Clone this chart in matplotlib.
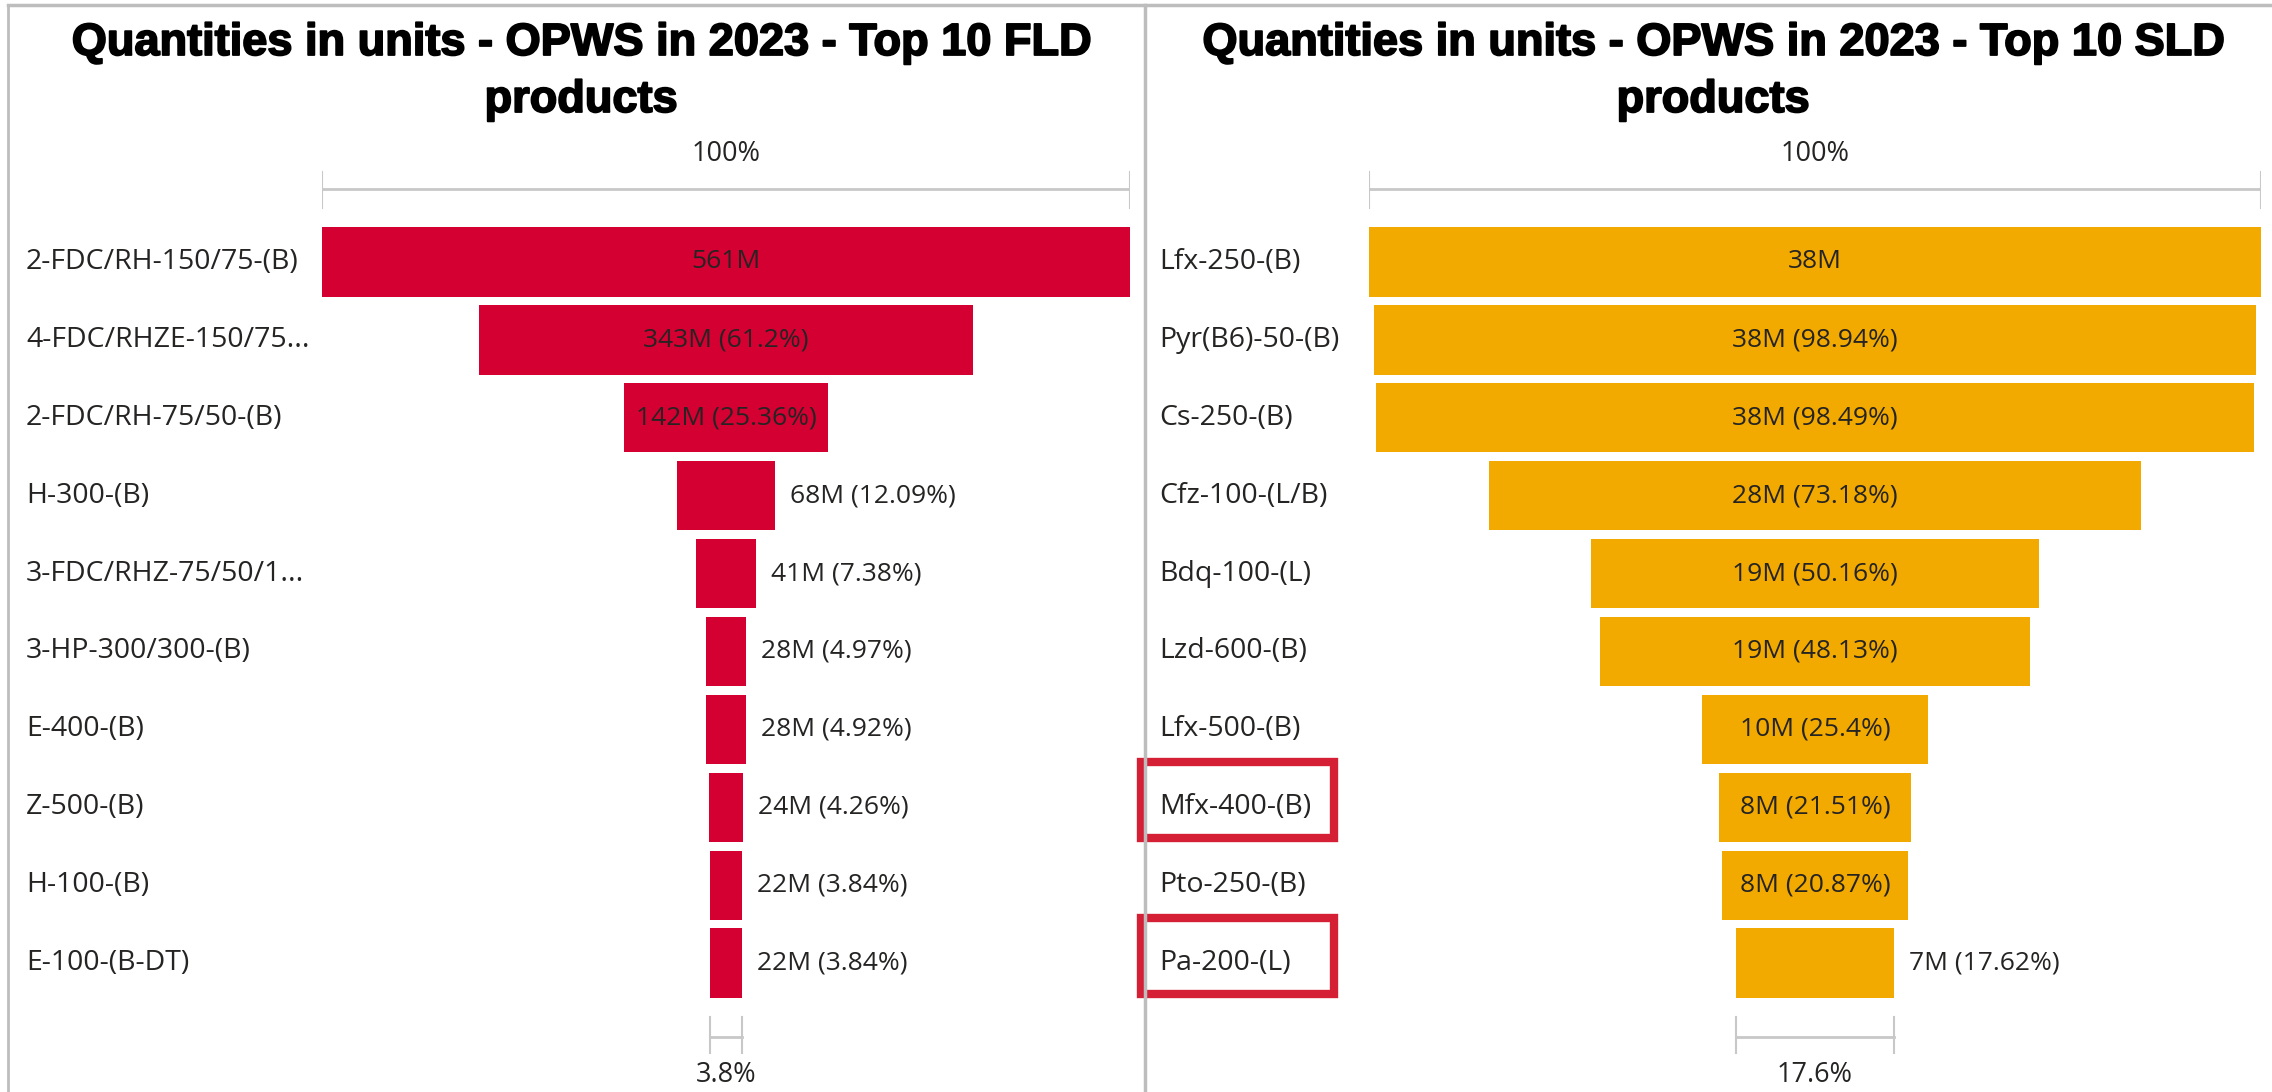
import matplotlib.pyplot as plt
import matplotlib.transforms as mtransforms
import matplotlib.patheffects as pe
from matplotlib.lines import Line2D
from matplotlib.patches import Rectangle

# FLD panel
fld_products = ["2-FDC/RH-150/75-(B)", "4-FDC/RHZE-150/75...", "2-FDC/RH-75/50-(B)",
                "H-300-(B)", "3-FDC/RHZ-75/50/1...", "3-HP-300/300-(B)", "E-400-(B)",
                "Z-500-(B)", "H-100-(B)", "E-100-(B-DT)"]
fld_units_m = [561, 343, 142, 68, 41, 28, 28, 24, 22, 22]
fld_pct = [100, 61.2, 25.36, 12.09, 7.38, 4.97, 4.92, 4.26, 3.84, 3.84]

# SLD panel
sld_products = ["Lfx-250-(B)", "Pyr(B6)-50-(B)", "Cs-250-(B)", "Cfz-100-(L/B)", "Bdq-100-(L)",
                "Lzd-600-(B)", "Lfx-500-(B)", "Mfx-400-(B)", "Pto-250-(B)", "Pa-200-(L)"]
sld_units_m = [38, 38, 38, 28, 19, 19, 10, 8, 8, 7]
sld_pct = [100, 98.94, 98.49, 73.18, 50.16, 48.13, 25.4, 21.51, 20.87, 17.62]
sld_highlight = ["Mfx-400-(B)", "Pa-200-(L)"]

W, H = 2272, 1092
fig = plt.figure(figsize=(W / 100, H / 100), dpi=100)
fig.patch.set_facecolor("white")

TXT = "#252423"
GRID = "#c8c8c8"
LBL_FONT = "Open Sans"


def px(x):
    return x / W


def funnel(x0, x1, label_x, title_x, title, products, units, pct, color, highlight=()):
    ax = fig.add_axes([px(x0), 0, px(x1 - x0), 1])
    ax.set_xlim(-50, 50)
    # row 0 centre at 262px from top, 77.9px per row
    ax.set_ylim((H - 262) / 77.9, -262 / 77.9)
    ax.axis("off")

    rows = list(range(len(products)))
    ax.barh(rows, pct, left=[-p / 2 for p in pct], height=0.89, color=color)

    lbl_tr = mtransforms.blended_transform_factory(fig.transFigure, ax.transData)
    for i, name in enumerate(products):
        ax.text(px(label_x), i, name, transform=lbl_tr, ha="left", va="center",
                fontsize=20.5, family=LBL_FONT, color=TXT)
        if name in highlight:
            ax.add_patch(Rectangle((px(1141), i - 0.58), px(193), 0.98, transform=lbl_tr,
                                   fill=False, edgecolor="#d41f35", linewidth=6, clip_on=False))

    for i, (u, p) in enumerate(zip(units, pct)):
        s = f"{u}M" if i == 0 else f"{u}M ({p:g}%)"
        if p >= 20:
            ax.text(0, i, s, ha="center", va="center", fontsize=19, family=LBL_FONT, color=TXT)
        else:
            ax.annotate(s, (p / 2, i), xytext=(11, 0), textcoords="offset points",
                        ha="left", va="center", fontsize=19, family=LBL_FONT, color=TXT)

    # top bracket (100%)
    ax.plot([-50, 50], [-0.94, -0.94], color=GRID, lw=2)
    for x in (-50, 50):
        ax.plot([x, x], [-1.155, -0.693], color=GRID, lw=1.5)
    ax.text(0, -1.39, "100%", ha="center", va="center", fontsize=19.5, family=LBL_FONT, color=TXT)

    # bottom bracket (last / first)
    last = pct[-1]
    ax.plot([-last / 2, last / 2], [9.95, 9.95], color=GRID, lw=2)
    for x in (-last / 2, last / 2):
        ax.plot([x, x], [9.69, 10.15], color=GRID, lw=1.5)
    ax.text(0, 10.44, f"{last:.1f}%", ha="center", va="center", fontsize=19.5,
            family=LBL_FONT, color=TXT)

    fig.text(px(title_x), 1 - 23 / H, title, ha="center", va="top", fontsize=32.5,
             fontweight="bold", family="Liberation Sans", color="black", linespacing=1.5,
             path_effects=[pe.withStroke(linewidth=1.3, foreground="black")])
    return ax


funnel(322, 1130, 26, 581, "Quantities in units - OPWS in 2023 - Top 10 FLD\nproducts",
       fld_products, fld_units_m, fld_pct, "#d50032")
funnel(1369, 2261, 1159, 1713, "Quantities in units - OPWS in 2023 - Top 10 SLD\nproducts",
       sld_products, sld_units_m, sld_pct, "#f2a900", highlight=sld_highlight)

# panel borders
border = "#bdbdbd"
fig.add_artist(Line2D([px(8), 1], [1 - 5 / H, 1 - 5 / H], color=border, lw=2.5))
fig.add_artist(Line2D([px(8), px(8)], [0, 1 - 5 / H], color=border, lw=2))
fig.add_artist(Line2D([px(1145), px(1145)], [0, 1 - 5 / H], color=border, lw=2.5))

fig.savefig("out.png", dpi=100, facecolor="white")
